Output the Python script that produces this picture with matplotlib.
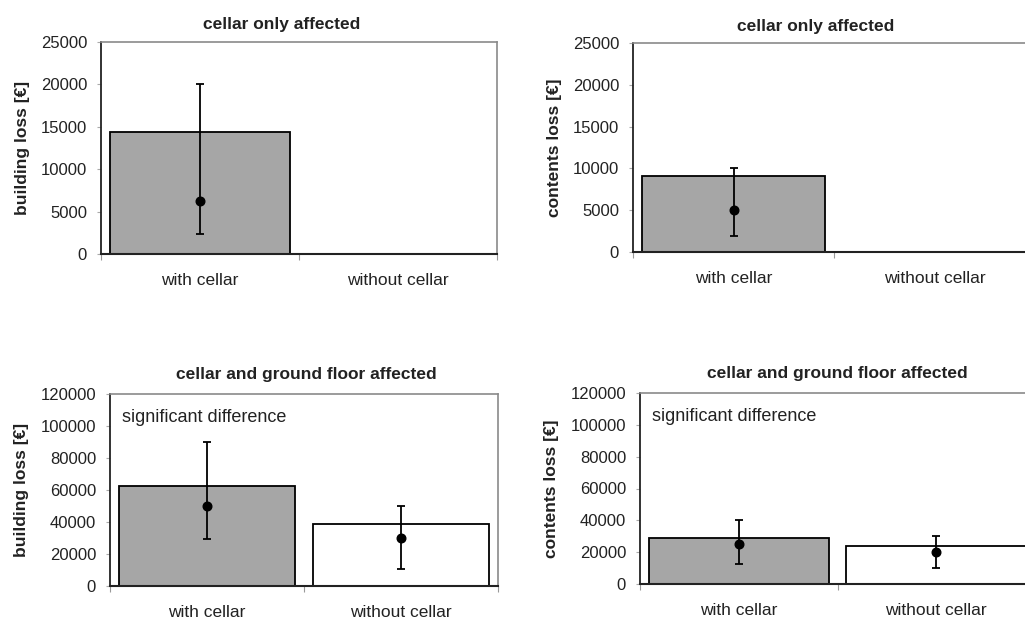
import matplotlib
matplotlib.use("Agg")
import matplotlib.pyplot as plt
import numpy as np

plt.rcParams['font.family'] = ['Liberation Sans', 'DejaVu Sans']

categories = ["with cellar", "without cellar"]
titles = ["cellar only affected", "cellar only affected",
          "cellar and ground floor affected", "cellar and ground floor affected"]
ylabels = ["building loss [€]", "contents loss [€]", "building loss [€]", "contents loss [€]"]

# panel data: mean (bar), median (dot), lower and upper error bar ends
bld_only_mean = [14400, 0]
bld_only_median = [6200, np.nan]
bld_only_low = [2400, np.nan]
bld_only_high = [20000, np.nan]

cnt_only_mean = [9100, 0]
cnt_only_median = [5000, np.nan]
cnt_only_low = [1900, np.nan]
cnt_only_high = [10000, np.nan]

bld_both_mean = [62500, 38800]
bld_both_median = [50000, 30000]
bld_both_low = [29500, 10500]
bld_both_high = [90000, 50000]

cnt_both_mean = [28800, 24000]
cnt_both_median = [25000, 20000]
cnt_both_low = [12500, 10000]
cnt_both_high = [40000, 30000]

y_max = [25000, 25000, 120000, 120000]
y_step = [5000, 5000, 20000, 20000]
notes = [None, None, "significant difference", "significant difference"]

panels = [
    (bld_only_mean, bld_only_median, bld_only_low, bld_only_high),
    (cnt_only_mean, cnt_only_median, cnt_only_low, cnt_only_high),
    (bld_both_mean, bld_both_median, bld_both_low, bld_both_high),
    (cnt_both_mean, cnt_both_median, cnt_both_low, cnt_both_high),
]

W, H = 1025, 619
fig = plt.figure(figsize=(W / 100, H / 100), dpi=100)
fig.patch.set_facecolor('white')

# pixel boxes: left, top, right, bottom
boxes = [(101, 42, 497, 254), (633, 43, 1035, 252),
         (110, 394, 498, 586), (640, 393, 1035, 584)]
title_x = [0.457, 0.455, 0.505, 0.5]
title_pad = [9, 9, 11, 11]

bar_colors = ["#a6a6a6", "#ffffff"]

for i, (box, data) in enumerate(zip(boxes, panels)):
    l, t, r, b = box
    ax = fig.add_axes([l / W, 1 - b / H, (r - l) / W, (b - t) / H])
    mean, med, low, high = data
    x = np.arange(len(categories))
    ax.bar(x, mean, width=0.91, color=bar_colors, edgecolor='black', linewidth=1.3, zorder=2)
    med = np.array(med, dtype=float)
    low = np.array(low, dtype=float)
    high = np.array(high, dtype=float)
    yerr = np.vstack([med - low, high - med])
    ax.errorbar(x, med, yerr=yerr, fmt='o', color='black', ms=6.2, ecolor='black',
                elinewidth=1.3, capsize=3, capthick=1.3, zorder=3)
    ax.set_xlim(-0.5, 1.5)
    ax.set_ylim(0, y_max[i])
    ticks = np.arange(0, y_max[i] + 1, y_step[i])
    ax.set_yticks(ticks)
    ax.set_yticklabels([str(int(v)) for v in ticks])
    ax.set_xticks([-0.5, 0.5, 1.5])
    ax.set_xticklabels([])
    ax.set_xticks([0, 1], minor=True)
    ax.set_xticklabels(categories, minor=True)
    ax.tick_params(axis='x', which='minor', length=0, pad=14, labelsize=12.5, colors='#222222')
    ax.tick_params(axis='x', which='major', length=4, color='#999999', direction='out')
    ax.tick_params(axis='y', length=3, labelsize=12, pad=7, colors='#222222')
    ax.tick_params(axis='y', color='#aaaaaa')
    for side in ['top', 'right']:
        ax.spines[side].set_color('#8a8a8a')
        ax.spines[side].set_linewidth(1.2)
    ax.spines['left'].set_color('#222222')
    ax.spines['bottom'].set_color('#222222')
    ax.spines['left'].set_linewidth(1.3)
    ax.spines['bottom'].set_linewidth(1.5)
    ax.set_title(titles[i], fontsize=12.5, fontweight='bold', pad=title_pad[i],
                 color='#222222', x=title_x[i])
    ax.set_ylabel(ylabels[i], fontsize=12.5, fontweight='bold', labelpad=8, color='#222222')
    if notes[i]:
        ax.text(0.03, 0.92, notes[i], transform=ax.transAxes, fontsize=13,
                va='top', ha='left', color='#222222')

fig.savefig("out.png", dpi=100, facecolor='white')
